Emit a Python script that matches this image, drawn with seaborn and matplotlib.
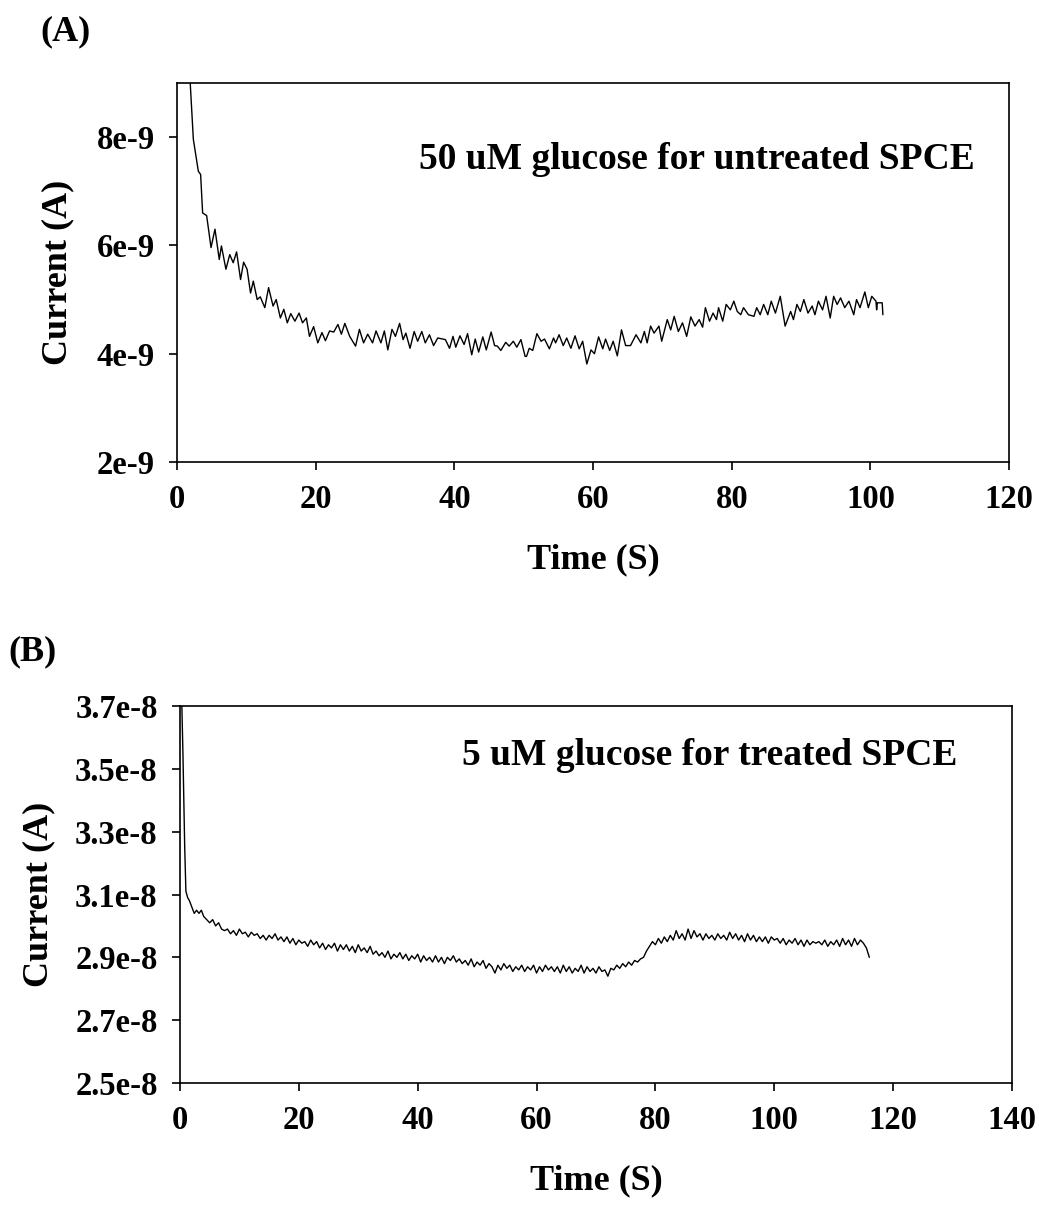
import numpy as np
import matplotlib
matplotlib.use("Agg")
import matplotlib.pyplot as plt
import seaborn as sns

# ---- Panel A: 50 uM glucose, untreated SPCE (current in units of 1e-9 A) ----
time_a = [0.6, 1.2, 1.9, 2.35, 3.07, 3.4, 3.69, 4.27, 4.9, 5.47, 6.09, 6.4, 7.05, 7.6,
          8.1, 8.59, 9.16, 9.6, 10.1, 10.6, 11.0, 11.56, 12.0, 12.66, 13.2, 13.85, 14.3,
          14.9, 15.4, 15.9, 16.4, 17.0, 17.6, 18.1, 18.65, 19.1, 19.7, 20.3, 20.9, 21.4,
          22.0, 22.6, 23.2, 23.7, 24.2, 24.9, 25.75, 26.3, 26.9, 27.5, 28.2, 28.7, 29.4,
          29.9, 30.4, 31.0, 31.5, 32.1, 32.6, 33.0, 33.6, 34.2, 34.7, 35.3, 35.8, 36.4,
          37.0, 37.6, 38.7, 39.3, 39.8, 40.2, 40.8, 41.4, 41.9, 42.5, 43.0, 43.5, 44.1,
          44.6, 45.3, 45.8, 46.2, 46.7, 47.4, 47.9, 48.5, 49.0, 49.6, 50.2, 50.4, 50.8,
          51.3, 51.9, 52.5, 53.0, 53.7, 54.3, 54.6, 55.1, 55.7, 56.2, 56.8, 57.4, 58.0,
          58.5, 59.1, 59.7, 60.2, 60.8, 61.4, 61.8, 62.4, 62.9, 63.5, 64.1, 64.7, 65.4,
          66.2, 66.9, 67.4, 67.8, 68.3, 68.8, 69.5, 69.9, 70.7, 71.2, 71.7, 72.3, 72.9,
          73.5, 74.1, 74.7, 75.3, 75.8, 76.2, 76.8, 77.3, 77.8, 78.1, 78.7, 79.2, 79.8,
          80.3, 80.8, 81.3, 81.7, 82.4, 83.2, 83.6, 84.1, 84.6, 85.2, 85.7, 86.3, 87.0,
          87.7, 88.5, 88.9, 89.4, 89.9, 90.4, 91.0, 91.6, 92.0, 92.5, 93.1, 93.6, 94.2,
          94.7, 95.2, 95.7, 96.3, 96.9, 97.6, 98.0, 98.5, 99.2, 99.7, 100.2, 100.8, 100.9,
          101.0, 101.7, 101.8]
current_a_n = [13.0, 10.8, 9.0, 7.96, 7.37, 7.31, 6.6, 6.55, 5.96, 6.30, 5.74, 5.99, 5.56, 5.83,
               5.68, 5.88, 5.37, 5.69, 5.56, 5.12, 5.34, 5.0, 5.05, 4.85, 5.22, 4.88, 5.0,
               4.66, 4.82, 4.57, 4.74, 4.6, 4.75, 4.57, 4.66, 4.32, 4.5, 4.2, 4.39, 4.24,
               4.42, 4.40, 4.54, 4.36, 4.56, 4.32, 4.14, 4.45, 4.2, 4.36, 4.2, 4.42, 4.2,
               4.42, 4.07, 4.45, 4.32, 4.56, 4.26, 4.38, 4.10, 4.41, 4.23, 4.41, 4.20, 4.35,
               4.15, 4.29, 4.26, 4.10, 4.32, 4.12, 4.33, 4.17, 4.37, 3.98, 4.27, 4.03, 4.31,
               4.07, 4.40, 4.15, 4.14, 4.06, 4.21, 4.14, 4.23, 4.12, 4.26, 3.95, 3.95, 4.10,
               4.06, 4.37, 4.23, 4.27, 4.09, 4.29, 4.20, 4.35, 4.15, 4.29, 4.10, 4.33, 4.09,
               4.23, 3.81, 4.07, 4.0, 4.31, 4.09, 4.27, 4.06, 4.23, 3.96, 4.44, 4.15, 4.15,
               4.35, 4.20, 4.41, 4.20, 4.51, 4.38, 4.51, 4.23, 4.63, 4.44, 4.69, 4.41, 4.57,
               4.32, 4.68, 4.51, 4.63, 4.49, 4.85, 4.60, 4.75, 4.63, 4.85, 4.60, 4.91, 4.81,
               4.97, 4.78, 4.72, 4.85, 4.72, 4.69, 4.85, 4.72, 4.91, 4.72, 4.97, 4.75, 5.06,
               4.51, 4.78, 4.63, 4.91, 4.78, 5.0, 4.75, 4.88, 4.72, 4.97, 4.81, 5.06, 4.66,
               5.06, 4.91, 5.03, 4.85, 4.97, 4.72, 5.0, 4.85, 5.14, 4.85, 5.06, 4.97, 4.81,
               4.94, 4.94, 4.72]

# ---- Panel B: 5 uM glucose, treated SPCE (current in units of 1e-8 A) ----
time_b_head = [0.2, 0.5, 0.8, 1.0, 1.3, 1.6, 2.0, 2.4, 2.8, 3.2, 3.6, 4.0, 4.5, 5.0, 5.5,
               6.0, 6.5, 7.0, 7.5]
current_b_head = [3.80, 3.55, 3.25, 3.11, 3.09, 3.08, 3.06, 3.04, 3.05, 3.04, 3.05, 3.03,
                  3.02, 3.01, 3.02, 3.00, 3.01, 2.99, 2.985]
# recorded every 0.5 s from 8.0 s to 116.0 s
current_b_tail = [
    2.99, 2.975, 2.985, 2.97, 2.99, 2.975, 2.98, 2.965, 2.98, 2.97,
    2.975, 2.96, 2.97, 2.955, 2.97, 2.96, 2.975, 2.955, 2.965, 2.95,
    2.965, 2.945, 2.96, 2.94, 2.955, 2.945, 2.95, 2.935, 2.955, 2.94,
    2.95, 2.93, 2.945, 2.925, 2.94, 2.93, 2.945, 2.92, 2.94, 2.925,
    2.94, 2.92, 2.935, 2.915, 2.94, 2.92, 2.93, 2.915, 2.935, 2.91,
    2.92, 2.905, 2.915, 2.9, 2.92, 2.895, 2.91, 2.9, 2.915, 2.895,
    2.91, 2.89, 2.905, 2.895, 2.91, 2.885, 2.905, 2.89, 2.9, 2.885,
    2.905, 2.885, 2.9, 2.88, 2.9, 2.89, 2.905, 2.885, 2.895, 2.88,
    2.89, 2.875, 2.895, 2.87, 2.885, 2.875, 2.89, 2.865, 2.88, 2.87,
    2.85, 2.875, 2.86, 2.88, 2.865, 2.875, 2.855, 2.87, 2.86, 2.875,
    2.855, 2.87, 2.86, 2.875, 2.85, 2.87, 2.855, 2.875, 2.86, 2.87,
    2.855, 2.87, 2.85, 2.875, 2.855, 2.87, 2.85, 2.865, 2.855, 2.875,
    2.85, 2.87, 2.855, 2.865, 2.85, 2.87, 2.855, 2.86, 2.84, 2.865,
    2.86, 2.875, 2.865, 2.88, 2.87, 2.885, 2.875, 2.89, 2.885, 2.895,
    2.9, 2.92, 2.935, 2.95, 2.94, 2.96, 2.945, 2.965, 2.95, 2.97,
    2.955, 2.985, 2.96, 2.975, 2.955, 2.99, 2.96, 2.985, 2.965, 2.975,
    2.955, 2.975, 2.96, 2.97, 2.955, 2.975, 2.96, 2.97, 2.955, 2.98,
    2.96, 2.975, 2.955, 2.97, 2.95, 2.975, 2.955, 2.97, 2.95, 2.965,
    2.95, 2.965, 2.945, 2.965, 2.955, 2.96, 2.945, 2.96, 2.94, 2.955,
    2.945, 2.96, 2.94, 2.955, 2.935, 2.955, 2.94, 2.95, 2.945, 2.95,
    2.94, 2.955, 2.935, 2.95, 2.94, 2.955, 2.935, 2.96, 2.94, 2.955,
    2.935, 2.96, 2.94, 2.955, 2.945, 2.93, 2.9]
sample_step_b = 0.5

# ---- Axis ticks and labels ----
xticks_a = [0, 20, 40, 60, 80, 100, 120]
yticks_a = [2e-9, 4e-9, 6e-9, 8e-9]
ylabels_a = ["2e-9", "4e-9", "6e-9", "8e-9"]
xticks_b = [0, 20, 40, 60, 80, 100, 120, 140]
yticks_b = [2.5e-8, 2.7e-8, 2.9e-8, 3.1e-8, 3.3e-8, 3.5e-8, 3.7e-8]
ylabels_b = ["2.5e-8", "2.7e-8", "2.9e-8", "3.1e-8", "3.3e-8", "3.5e-8", "3.7e-8"]

sns.set_style("ticks")
plt.rcParams["font.family"] = ["Liberation Serif", "DejaVu Serif"]
plt.rcParams["font.weight"] = "bold"
plt.rcParams["axes.labelweight"] = "bold"
plt.rcParams["text.color"] = "black"
plt.rcParams["axes.labelcolor"] = "black"
plt.rcParams["xtick.color"] = "black"
plt.rcParams["ytick.color"] = "black"

fig = plt.figure(figsize=(10.39, 12.11), dpi=100)
ax_a = fig.add_axes([0.1704, 0.6185, 0.8008, 0.3130])
ax_b = fig.add_axes([0.1732, 0.1057, 0.8008, 0.3113])

time_b = np.concatenate([time_b_head,
                         8.0 + sample_step_b * np.arange(len(current_b_tail))])
current_b = np.concatenate([current_b_head, current_b_tail]) * 1e-8
current_a = np.array(current_a_n) * 1e-9

sns.lineplot(x=time_a, y=current_a, ax=ax_a, color="black", linewidth=1.0,
             estimator=None, sort=False)
sns.lineplot(x=time_b, y=current_b, ax=ax_b, color="black", linewidth=1.0,
             estimator=None, sort=False)

tick_fs = 23.5
label_fs = 26

def style_axes(ax, xt, yt, ylab, xlim, ylim, ylabelpad):
    ax.set_xlim(*xlim)
    ax.set_ylim(*ylim)
    ax.set_xticks(xt)
    ax.set_xticklabels([str(v) for v in xt], fontsize=tick_fs, fontweight="bold",
                       color="black")
    ax.set_yticks(yt)
    ax.set_yticklabels(ylab, fontsize=tick_fs, fontweight="bold", color="black")
    for side in ["top", "right", "left", "bottom"]:
        ax.spines[side].set_visible(True)
        ax.spines[side].set_linewidth(1.2)
        ax.spines[side].set_color("black")
    ax.tick_params(axis="both", direction="out", length=6, width=1.2,
                   color="black", pad=10, top=False, right=False)
    ax.set_xlabel("Time (S)", fontsize=label_fs, fontweight="bold", labelpad=20,
                  color="black")
    ax.set_ylabel("Current (A)", fontsize=label_fs, fontweight="bold",
                  labelpad=ylabelpad, color="black")

style_axes(ax_a, xticks_a, yticks_a, ylabels_a, (0, 120), (2e-9, 9e-9), 16)
style_axes(ax_b, xticks_b, yticks_b, ylabels_b, (0, 140), (2.5e-8, 3.7e-8), 14)

ax_a.text(0.959, 0.797, "50 uM glucose for untreated SPCE", transform=ax_a.transAxes,
          ha="right", va="center", fontsize=27, fontweight="bold", color="black")
ax_b.text(0.934, 0.870, "5 uM glucose for treated SPCE", transform=ax_b.transAxes,
          ha="right", va="center", fontsize=27, fontweight="bold", color="black")

fig.text(0.0626, 0.9736, "(A)", ha="center", va="center", fontsize=26,
         fontweight="bold", color="black")
fig.text(0.0308, 0.4616, "(B)", ha="center", va="center", fontsize=26,
         fontweight="bold", color="black")

fig.savefig("out.png", dpi=100, facecolor="white")
